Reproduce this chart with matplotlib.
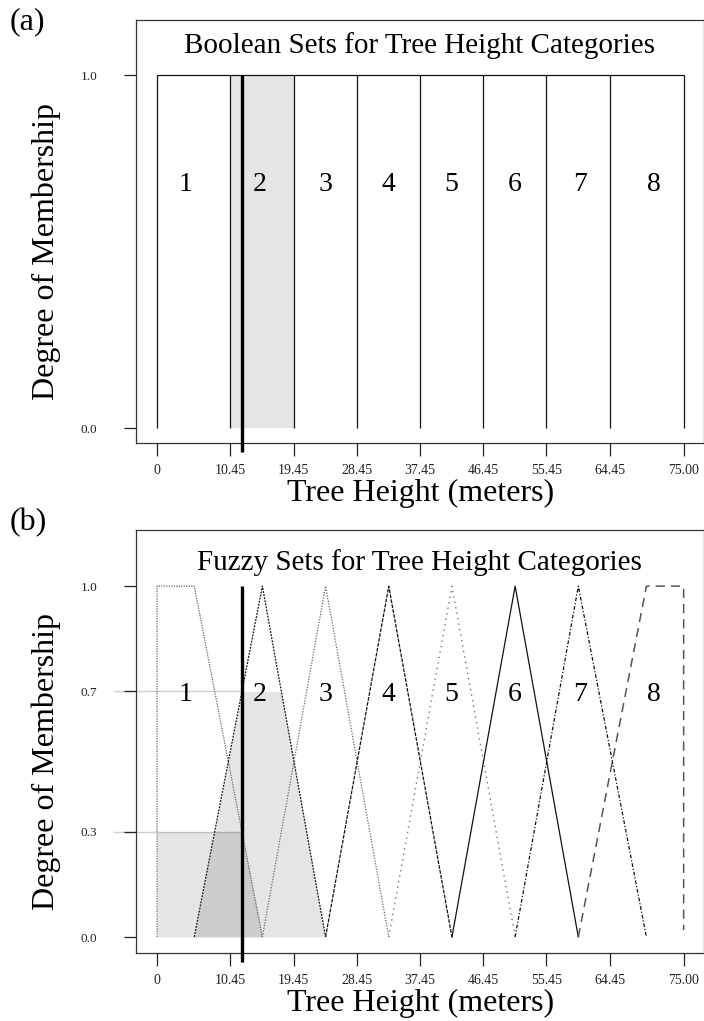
import numpy as np
import matplotlib

matplotlib.use("Agg")
import matplotlib.pyplot as plt  # noqa: E402

plt.rcParams["font.family"] = ["Liberation Serif", "DejaVu Serif"]

# ---- data -------------------------------------------------------------
bounds = [0, 10.45, 19.45, 28.45, 37.45, 46.45, 55.45, 64.45, 75.00]
tick_labels = ["0", "10.45", "19.45", "28.45", "37.45", "46.45", "55.45", "64.45", "75.00"]
cat_labels = ["1", "2", "3", "4", "5", "6", "7", "8"]
cat_label_x = [4.0, 14.55, 23.95, 33.0, 41.9, 51.0, 60.3, 70.7]
cat_label_y = 0.69
observed = 12.05
bool_hit = 1  # index of category containing the observation

# fuzzy set vertices (x, y)
fuzzy_x = [
    [0, 0, 5.3, 15],
    [5.3, 15, 24],
    [15, 24, 33],
    [24, 33, 42],
    [33, 42, 51],
    [42, 51, 60],
    [51, 60, 69.7],
    [60, 69.7, 75, 75],
]
fuzzy_y = [
    [0, 1, 1, 0],
    [0, 1, 0],
    [0, 1, 0],
    [0, 1, 0],
    [0, 1, 0],
    [0, 1, 0],
    [0, 1, 0],
    [0, 1, 1, 0.02],
]
fuzzy_mu = [0.3, 0.7]  # membership of observation in sets 1 and 2
fuzzy_yticks = [0.0, 0.3, 0.7, 1.0]

# ---- styles -----------------------------------------------------------
_LINE = "#222222"
styles = [
    dict(color="#666666", ls=(0, (1, 1)), lw=0.9),
    dict(color="#111111", ls=(0, (1.5, 1)), lw=0.9),
    dict(color="#666666", ls=(0, (1, 1.2)), lw=0.9),
    dict(color="#111111", ls=(0, (3, 1)), lw=0.9),
    dict(color="#777777", ls=(0, (1, 3)), lw=1.0),
    dict(color="#111111", ls="-", lw=0.9),
    dict(color="#111111", ls=(0, (3, 1.5, 1, 1.5)), lw=0.9),
    dict(color="#555555", ls=(0, (6, 4)), lw=1.1),
]

W, H = 704, 1021
fig = plt.figure(figsize=(W / 100, H / 100), dpi=100)


def _frame(ax, ylim, yticks, ylab_y, xlab_y, panel, panel_y, title, title_y):
    ax.set_xlim(-3.0, 77.85)
    ax.set_ylim(*ylim)
    ax.set_xticks(bounds)
    ax.set_xticklabels(tick_labels, fontsize=10)
    ax.set_yticks(yticks)
    ax.set_yticklabels([f"{v:.1f}" for v in yticks], fontsize=9.5)
    ax.tick_params(axis="x", length=9, width=0.9, pad=6, colors=_LINE)
    ax.tick_params(axis="y", length=9, width=0.9, pad=19, colors=_LINE)
    for s in ax.spines.values():
        s.set_color("#333333")
        s.set_linewidth(0.9)
    ax.text(0.5, title_y, title, transform=ax.transAxes, ha="center",
            va="center", fontsize=21)
    fig.text(46 / W, 1 - ylab_y / H, "Degree of Membership", rotation=90,
             ha="center", va="center", fontsize=23)
    fig.text(421 / W, 1 - xlab_y / H, "Tree Height (meters)", ha="center",
             va="center", fontsize=23)
    fig.text(10 / W, 1 - panel_y / H, panel, ha="left", va="center",
             fontsize=23)
    for lab, x in zip(cat_labels, cat_label_x):
        ax.text(x, cat_label_y, lab, ha="center", va="center", fontsize=20,
                zorder=5)


# ---- (a) Boolean sets -------------------------------------------------
ax1 = fig.add_axes([136 / W, 1 - 443 / H, 568 / W - 0.0005, 423 / H])
ylim_a = (-0.0425, 1.156)
ax1.fill_between([bounds[bool_hit], bounds[bool_hit + 1]], 0, 1,
                 color="#e5e5e5", lw=0, zorder=1)
ax1.vlines(bounds, 0, 1, color="#111111", lw=0.9, zorder=2)
ax1.hlines(1, bounds[0], bounds[-1], color="#111111", lw=0.9, zorder=2)
ax1.plot([observed, observed], [ylim_a[0] - 9 / 353, 1], color="black",
         lw=2.4, clip_on=False, zorder=4, solid_capstyle="butt")
_frame(ax1, ylim_a, [0.0, 1.0], 251.5, 493, "(a)", 22,
       "Boolean Sets for Tree Height Categories", 0.94)

# ---- (b) Fuzzy sets ---------------------------------------------------
ax2 = fig.add_axes([136 / W, 1 - 952.7 / H, 568 / W - 0.0005, 422.7 / H])
ylim_b = (-0.0447, 1.16)
for i, mu in enumerate(fuzzy_mu):
    xs = np.linspace(fuzzy_x[i][0], fuzzy_x[i][-1], 400)
    xp = np.array(fuzzy_x[i], dtype=float)
    fp = np.array(fuzzy_y[i], dtype=float)
    if xp[0] == xp[1]:
        xp, fp = xp[1:], fp[1:]
    ys = np.minimum(np.interp(xs, xp, fp), mu)
    ax2.fill_between(xs, 0, ys, color="black", alpha=0.1, lw=0, zorder=1)
for mu in fuzzy_mu:
    ax2.plot([-6.1, observed], [mu, mu], color="#cfcfcf", lw=1.0,
             clip_on=False, zorder=0.5)
for xs, ys, st in zip(fuzzy_x, fuzzy_y, styles):
    ax2.plot(xs, ys, zorder=3, **st)
ax2.plot([observed, observed], [ylim_b[0] - 9 / 351, 1], color="black",
         lw=2.4, clip_on=False, zorder=4, solid_capstyle="butt")
_frame(ax2, ylim_b, fuzzy_yticks, 761.5, 1003, "(b)", 523,
       "Fuzzy Sets for Tree Height Categories", 0.922)

fig.savefig("out.png", dpi=100)
